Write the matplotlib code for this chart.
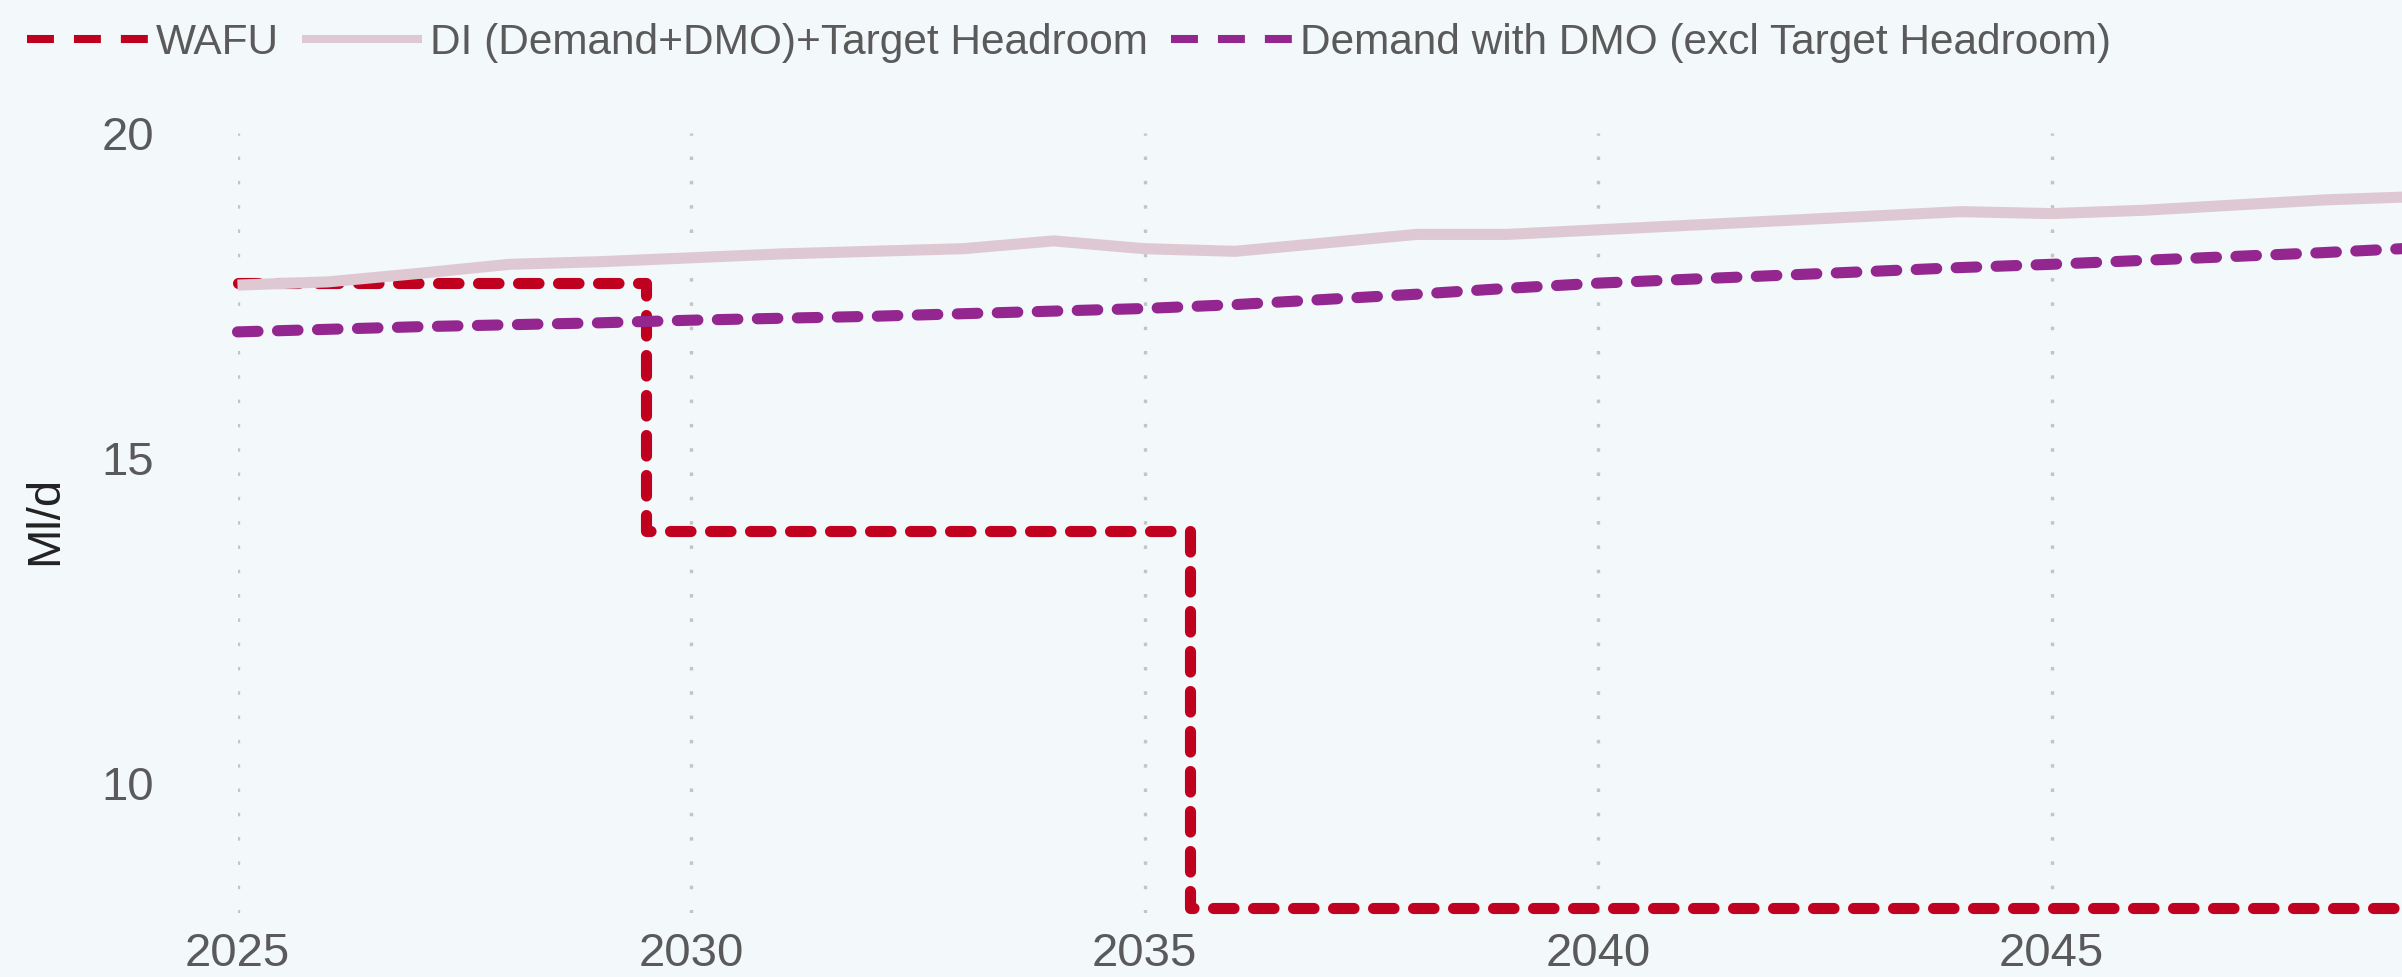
import matplotlib
matplotlib.use("Agg")
import matplotlib.pyplot as plt
from matplotlib.lines import Line2D

plt.rcParams['font.family'] = ['Liberation Sans', 'DejaVu Sans']
plt.rcParams['lines.scale_dashes'] = False

years = list(range(2025, 2050))
wafu = [17.69] * 5 + [13.87] * 6 + [8.07] * 14
di_headroom = [17.66, 17.71, 17.84, 17.98, 18.02, 18.08, 18.14, 18.18, 18.22, 18.34,
               18.22, 18.18, 18.31, 18.44, 18.44, 18.51, 18.58, 18.65, 18.72, 18.79,
               18.76, 18.81, 18.89, 18.97, 19.02]
demand_dmo = [16.94, 16.98, 17.02, 17.05, 17.08, 17.12, 17.15, 17.18, 17.22, 17.26,
              17.30, 17.36, 17.44, 17.52, 17.61, 17.69, 17.75, 17.81, 17.87, 17.93,
              17.98, 18.04, 18.10, 18.16, 18.23]
labels = ['WAFU', 'DI (Demand+DMO)+Target Headroom', 'Demand with DMO (excl Target Headroom)']
xticks = [2025, 2030, 2035, 2040, 2045]
yticks = [10, 15, 20]

red, pink, purple = '#C0001F', '#DEC9D3', '#93278F'
bg = '#F3F8FB'
W, H = 2402, 977
fig = plt.figure(figsize=(W / 100, H / 100), dpi=100, facecolor=bg)
ax = fig.add_axes([237.5 / W, (H - 913) / H, (W - 237.5) / W, 780 / H], facecolor=bg)

dash = (14.8, 14.0)
ax.plot(years, wafu, color=red, lw=8, drawstyle='steps-mid', dashes=dash,
        dash_capstyle='round', clip_on=False, zorder=2)
ax.plot(years, di_headroom, color=pink, lw=8, solid_capstyle='butt',
        clip_on=False, zorder=3)
ax.plot(years, demand_dmo, color=purple, lw=8, dashes=dash,
        dash_capstyle='round', clip_on=False, zorder=4)

ax.set_xlim(2025, 2025 + (W - 237.5) / 90.7)
ax.set_ylim(8, 20)
ax.set_xticks(xticks)
ax.set_yticks(yticks)
ax.tick_params(axis='both', length=0, labelsize=34, labelcolor='#5A5A5A')
ax.tick_params(axis='y', pad=60)
ax.tick_params(axis='x', pad=14)
ax.grid(axis='x', color='#C4C4C4', lw=2.4, linestyle=(0, (2.5, 15)))
ax.grid(axis='y', visible=False)
for s in ax.spines.values():
    s.set_visible(False)

fig.text(45 / W, 1 - 520 / H, 'Ml/d', rotation=90, ha='center', va='center',
         fontsize=34, color='#222222')

# legend samples are thinner, with square dashes
leg_dash = (19.4, 14.4)
handles = [Line2D([], [], color=red, lw=5.8, dashes=leg_dash, dash_capstyle='butt'),
           Line2D([], [], color=pink, lw=5.8, solid_capstyle='butt'),
           Line2D([], [], color=purple, lw=5.8, dashes=leg_dash, dash_capstyle='butt')]
fig.legend(handles=handles, labels=labels, loc='center left',
           bbox_to_anchor=(27 / W, 1 - 43 / H), ncol=3, frameon=False, fontsize=30.5,
           handlelength=2.85, handletextpad=0.18, columnspacing=0.55, borderpad=0,
           borderaxespad=0, labelcolor='#5A5A5A')

fig.savefig('out.png', dpi=100, facecolor=bg)
